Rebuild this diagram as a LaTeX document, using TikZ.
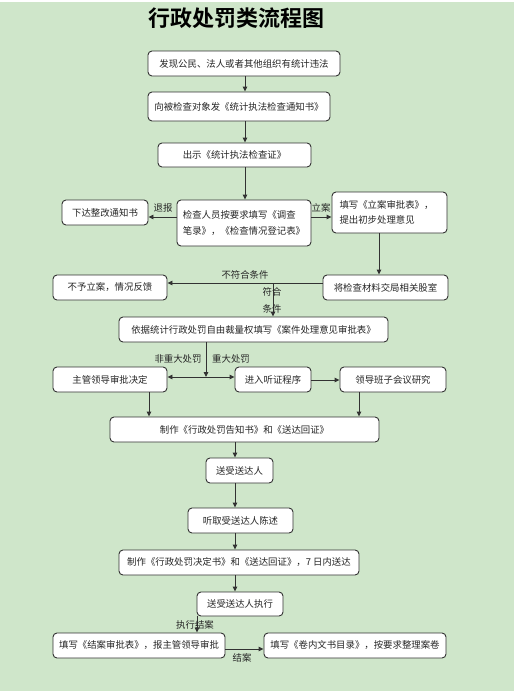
\documentclass[tikz,border=0pt]{standalone}
\usepackage{fontspec}
\setmainfont{Noto Sans CJK SC}
\newfontfamily\titlefont{Noto Sans CJK SC Bold}
\usetikzlibrary{arrows.meta}
\definecolor{bg}{RGB}{207,230,202}
\definecolor{ln}{RGB}{50,50,50}
\tikzset{
  box/.style={draw=ln, line width=0.9pt, rounded corners=4pt, fill=white, inner sep=0pt, font=\fontsize{9.4}{15.5}\selectfont, text=black!85},
  arr/.style={draw=ln, line width=0.9pt, -{Triangle[length=5pt,width=4.5pt]}},
  lbl/.style={font=\fontsize{9.4}{11}\selectfont, inner sep=0pt, text=black!85}
}
\begin{document}
\begin{tikzpicture}[x=1pt,y=-1pt]
\fill[bg] (0,0) rectangle (514,691);
\fill[white] (0,0) rectangle (514,1.5);
\useasboundingbox (0,0) rectangle (514,691);
\node[font=\titlefont\fontsize{22}{24}\selectfont] (title) at (236,18) {行政处罚类流程图};
\node[box, minimum width=192pt, minimum height=25pt] (b1) at (244,63.5) {发现公民、法人或者其他组织有统计违法};
\node[box, minimum width=182pt, minimum height=29pt] (b2) at (239,106.5) {向被检查对象发《统计执法检查通知书》};
\node[box, minimum width=153pt, minimum height=24pt] (b3) at (234.5,155) {出示《统计执法检查证》};
\node[box, minimum width=134pt, minimum height=46pt, align=left] (b4) at (244,223) {检查人员按要求填写《调查\\笔录》，《检查情况登记表》};
\node[box, minimum width=86pt, minimum height=25pt] (bL) at (105,212.5) {下达整改通知书};
\node[box, minimum width=115pt, minimum height=41pt, align=left, text width=100pt] (bR) at (389.5,212.5) {填写《立案审批表》，\\提出初步处理意见};
\node[box, minimum width=125pt, minimum height=25pt] (b5) at (385.5,287.5) {将检查材料交局相关股室};
\node[box, minimum width=114pt, minimum height=25pt] (b6) at (110,287.5) {不予立案，情况反馈};
\node[box, minimum width=269pt, minimum height=25pt] (b7) at (253.5,329.5) {依据统计行政处罚自由裁量权填写《案件处理意见审批表》};
\node[box, minimum width=114pt, minimum height=25pt] (b8) at (110,379.5) {主管领导审批决定};
\node[box, minimum width=76pt, minimum height=25pt] (b9) at (273,379.5) {进入听证程序};
\node[box, minimum width=106pt, minimum height=25pt] (b10) at (393,379.5) {领导班子会议研究};
\node[box, minimum width=269pt, minimum height=25pt] (b11) at (244.5,429.5) {制作《行政处罚告知书》和《送达回证》};
\node[box, minimum width=67pt, minimum height=25pt] (b12) at (239.5,470.5) {送受送达人};
\node[box, minimum width=105pt, minimum height=25pt] (b13) at (240.5,520.5) {听取受送达人陈述};
\node[box, minimum width=240pt, minimum height=25pt] (b14) at (239,562.5) {制作《行政处罚决定书》和《送达回证》，7 日内送达};
\node[box, minimum width=86pt, minimum height=24pt] (b15) at (240,604) {送受送达人执行};
\node[box, minimum width=172pt, minimum height=25pt] (b16) at (139,645.5) {填写《结案审批表》，报主管领导审批};
\node[box, minimum width=182pt, minimum height=25pt] (b17) at (355,645.5) {填写《卷内文书目录》，按要求整理案卷};
% helper coordinates
\coordinate (xa) at (245,0);
\coordinate (ya) at (0,217);
\coordinate (xb) at (379,0);
\coordinate (yb) at (0,283);
\coordinate (xc) at (273,0);
\coordinate (j) at (206,377);
\coordinate (yd) at (0,380);
\coordinate (xe) at (149,0);
\coordinate (xf) at (359,0);
\coordinate (xg) at (235,0);
\coordinate (xh) at (197,0);
\coordinate (yh) at (0,649);
% connectors
\draw[arr] (b1.south -| xa) -- (b2.north -| xa);
\draw[arr] (b2.south -| xa) -- (b3.north -| xa);
\draw[arr] (b3.south -| xa) -- (b4.north -| xa);
\draw[arr] (b4.west |- ya) -- (bL.east |- ya);
\draw[arr] (b4.east |- ya) -- (bR.west |- ya);
\draw[arr] (bR.south -| xb) -- (b5.north -| xb);
\draw[arr] (b5.west |- yb) -- (b6.east |- yb);
\draw[arr] (xc |- yb) -- (b7.north -| xc);
\draw[arr] (b7.south -| j) -- (j);
\draw[arr] (j) -- (b8.east |- j);
\draw[arr] (j) -- (b9.west |- j);
\draw[arr] (b9.east |- yd) -- (b10.west |- yd);
\draw[arr] (b8.south -| xe) -- (b11.north -| xe);
\draw[arr] (b10.south -| xf) -- (b11.north -| xf);
\draw[arr] (b11.south -| xg) -- (b12.north -| xg);
\draw[arr] (b12.south -| xg) -- (b13.north -| xg);
\draw[arr] (b13.south -| xg) -- (b14.north -| xg);
\draw[arr] (b14.south -| xg) -- (b15.north -| xg);
\draw[arr] (b15.south -| xh) -- (b16.north -| xh);
\draw[arr] (b16.east |- yh) -- (b17.west |- yh);
% labels
\node[lbl] (l1) at (163,208) {退报};
\node[lbl] (l2) at (321,208) {立案};
\node[lbl] (l3) at (245,275) {不符合条件};
\node[lbl] (l4) at (272,292) {符合};
\node[lbl] (l5) at (272,309) {条件};
\node[lbl] (l6) at (178,359) {非重大处罚};
\node[lbl] (l7) at (231,359) {重大处罚};
\node[lbl] (l8) at (195,625) {执行结案};
\node[lbl] (l9) at (242,658) {结案};
\end{tikzpicture}
\end{document}
